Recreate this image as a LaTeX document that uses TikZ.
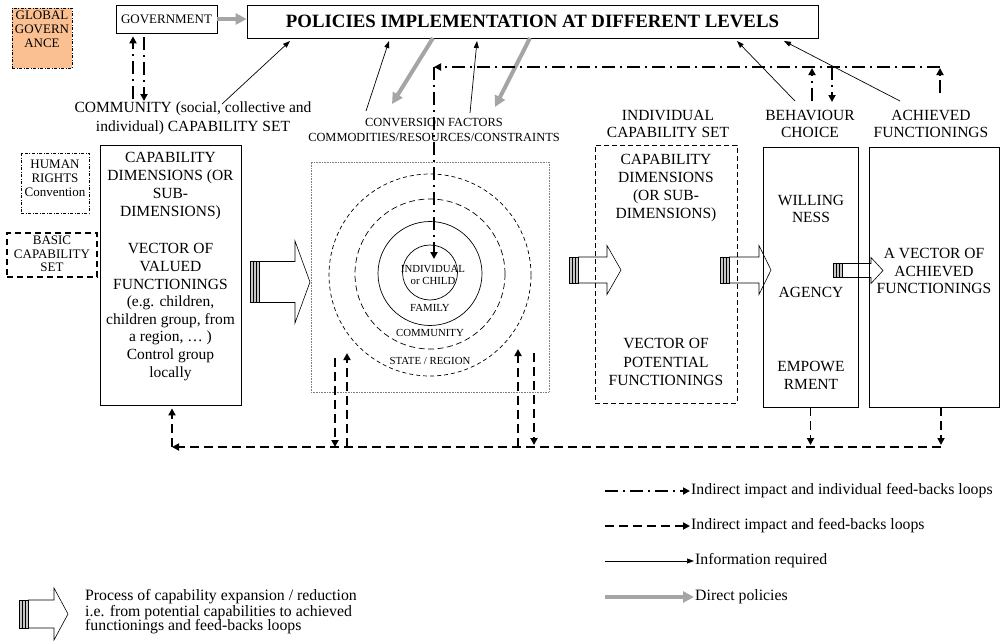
\documentclass[tikz,border=0pt]{standalone}
\usepackage{fontspec}
\setmainfont{Liberation Serif}
\usetikzlibrary{arrows.meta,calc}
\definecolor{govpeach}{RGB}{250,192,146}
\definecolor{policygray}{RGB}{165,165,165}

% striped process arrow: tail x, tip x, mid y, body half, head half, head length
\newcommand{\procarrow}[6]{%
  \filldraw[fill=gray!45, line width=0.5pt] (#1,#3-#4) rectangle (#1+9,#3+#4);
  \draw[line width=0.5pt] (#1+3,#3-#4) -- (#1+3,#3+#4) (#1+6,#3-#4) -- (#1+6,#3+#4);
  \draw[line width=0.6pt] (#1+9,#3-#4) -- (#2-#6,#3-#4) -- (#2-#6,#3-#5)
    -- (#2,#3) -- (#2-#6,#3+#5) -- (#2-#6,#3+#4) -- (#1+9,#3+#4);
}

\begin{document}
\begin{tikzpicture}[
  x=1pt, y=-1pt,
  % Global node styling
  every node/.style={inner sep=1pt, align=center},
  % Text sizes
  bigtext/.style={font=\fontsize{15.5}{17.8}\selectfont},
  smalltext/.style={font=\fontsize{13}{14}\selectfont},
  ringtext/.style={font=\fontsize{10.8}{12}\selectfont},
  convtext/.style={font=\fontsize{12.4}{15}\selectfont},
  legendtext/.style={font=\fontsize{15.8}{14.5}\selectfont, align=left},
  % Boxes
  plainbox/.style={draw, line width=0.7pt},
  dashbox/.style={draw, line width=0.7pt, dash pattern=on 5pt off 3pt},
  ring/.style={circle, draw, line width=0.7pt, inner sep=0pt},
  % Connectors
  info/.style={-{Triangle[length=7pt, width=5pt]}, line width=0.7pt},
  policy/.style={-{Triangle[length=11pt, width=11pt]}, policygray, line width=4pt},
  indloop/.style={-{Triangle[length=7pt, width=7pt]}, line width=1.8pt,
    dash pattern=on 13pt off 5pt on 2pt off 5pt},
  fbloop/.style={-{Triangle[length=7pt, width=7pt]}, line width=1.8pt,
    dash pattern=on 9pt off 5pt}
]
\useasboundingbox (0,0) rectangle (1002,641);

% top row
\node[draw, line width=0.7pt, dash pattern=on 3pt off 1.5pt on 1pt off 1.5pt, fill=govpeach,
  minimum width=60pt, minimum height=60pt] (global) at (42,38) {};
\node[smalltext, anchor=north] (globaltext) at ([yshift=-2pt]global.north) {GLOBAL\\GOVERN\\ANCE};
\node[plainbox, smalltext, minimum width=101pt, minimum height=28pt] (gov) at (166.5,19) {GOVERNMENT};
\node[plainbox, minimum width=571pt, minimum height=33pt, font=\fontsize{18.8}{22}\selectfont\bfseries]
  (policies) at (532.5,21.5) {POLICIES IMPLEMENTATION AT DIFFERENT LEVELS};

% labels over the columns
\node[bigtext, font=\fontsize{15.5}{19}\selectfont] (commset) at (193,118.5)
  {COMMUNITY (social, collective and\\individual) CAPABILITY SET};
\node[convtext] (conv) at (434,129.5) {CONVERSION FACTORS\\COMMODITIES/RESOURCES/CONSTRAINTS};
\node[bigtext, font=\fontsize{15.5}{17}\selectfont] (indlabel) at (668,123.5) {INDIVIDUAL\\CAPABILITY SET};
\node[bigtext, font=\fontsize{15.5}{17}\selectfont] (behavlabel) at (810,123.5) {BEHAVIOUR\\CHOICE};
\node[bigtext, font=\fontsize{15.5}{17}\selectfont] (achlabel) at (931,123.5) {ACHIEVED\\FUNCTIONINGS};

% left column
\node[draw, line width=0.6pt, dash pattern=on 3pt off 1.5pt on 1pt off 1.5pt,
  minimum width=68pt, minimum height=60pt] (rights) at (55,183) {};
\node[smalltext] (rightstext) at (55,178) {HUMAN\\RIGHTS\\Convention};
\node[draw, line width=1.5pt, dash pattern=on 6pt off 4pt,
  minimum width=90pt, minimum height=44pt] (basic) at (52,255) {};
\node[smalltext, font=\fontsize{13}{13.5}\selectfont] (basictext) at (52,254) {BASIC\\CAPABILITY\\SET};
\node[plainbox, minimum width=141pt, minimum height=260pt] (capbox) at (170.5,275) {};
\node[bigtext, font=\fontsize{15.5}{18.3}\selectfont] (captop) at (170.5,186) {CAPABILITY\\DIMENSIONS (OR\\SUB-\\DIMENSIONS)};
\node[bigtext, font=\fontsize{15.5}{17.6}\selectfont] (capvec) at (170.5,312)
  {VECTOR OF\\VALUED\\FUNCTIONINGS\\(e.g. children,\\children group, from\\a region, … )\\Control group\\locally};

% conversion rings
\node[draw, gray, densely dotted, line width=0.6pt, minimum width=238pt, minimum height=230pt] (context) at (430,277) {};
\node[ring, dash pattern=on 4pt off 3pt, minimum size=202pt] (state) at (430,275) {};
\node[ring, dash pattern=on 6pt off 3.5pt, minimum size=150pt] (community) at (430,274) {};
\node[ring, minimum size=104pt] (family) at (430,273.5) {};
\node[ring, ringtext, minimum size=55pt] (child) at (430,272.5) {};
\node[ringtext] (childtext) at (433,275) {INDIVIDUAL\\or CHILD};
\node[ringtext] (familytext) at (430,308) {FAMILY};
\node[ringtext] (communitytext) at (430,333) {COMMUNITY};
\node[ringtext] (statetext) at (430,361) {STATE / REGION};

% right columns
\node[dashbox, minimum width=142pt, minimum height=258pt] (indbox) at (666,274) {};
\node[bigtext, font=\fontsize{15.5}{18.3}\selectfont] (indtop) at (666,188) {CAPABILITY\\DIMENSIONS\\(OR SUB-\\DIMENSIONS)};
\node[bigtext, font=\fontsize{15.5}{18.5}\selectfont] (indvec) at (666,362) {VECTOR OF\\POTENTIAL\\FUNCTIONINGS};
\node[plainbox, minimum width=95pt, minimum height=260pt] (behavbox) at (810.5,277) {};
\node[bigtext] (willing) at (811,209) {WILLING\\NESS};
\node[bigtext] (agency) at (811,292) {AGENCY};
\node[bigtext] (empower) at (811,375) {EMPOWE\\RMENT};
\node[plainbox, minimum width=130pt, minimum height=260pt] (achbox) at (934,277) {};
\node[bigtext] (achvec) at (934,271) {A VECTOR OF\\ACHIEVED\\FUNCTIONINGS};

% process arrows
\procarrow{250}{310}{282}{20.5}{41}{15}
\procarrow{569}{621}{270}{13}{24.5}{14}
\procarrow{720}{771}{270}{13}{24.5}{12}
\procarrow{833}{883}{270.5}{7}{13}{12}

% loose connector ends
\coordinate (govup) at (133,99);
\coordinate (govdown) at (144,101);
\coordinate (cominfo) at (222,104);  \coordinate (polA) at (290,41);
\coordinate (convinfoA) at (366,111); \coordinate (polB) at (389,41);
\coordinate (convinfoB) at (470,113); \coordinate (polC) at (477,41);
\coordinate (behavinfo) at (795,101); \coordinate (polD) at (737,41);
\coordinate (achinfo) at (900,101);  \coordinate (polE) at (784,41);
\coordinate (polF) at (433,38);  \coordinate (convA) at (392,104);
\coordinate (polG) at (530,38);  \coordinate (convB) at (495,107);
\coordinate (loopR) at (940,67);
\coordinate (loopL) at (434,67);
\coordinate (achup) at (940,93);
\coordinate (behavup) at (812,101);
\coordinate (behavdown) at (832,102);
\coordinate (childtop) at (434,259);
\coordinate (fbR) at (941,447);
\coordinate (fbL) at (172,447);
\coordinate (ctxA) at (335,358);
\coordinate (ctxB) at (347,353);
\coordinate (ctxC) at (518,349);
\coordinate (ctxD) at (534,353);

% direct policies
\draw[policy] (gov.east) -- (gov.east -| policies.west);
\draw[policy] (polF) -- (convA);
\draw[policy] (polG) -- (convB);

% information required
\draw[info] (cominfo) -- (polA);
\draw[info] (convinfoA) -- (polB);
\draw[info] (convinfoB) -- (polC);
\draw[info] (behavinfo) -- (polD);
\draw[info] (achinfo) -- (polE);

% individual feed-back loops
\draw[indloop, shorten >=3pt] (govup) -- (govup |- gov.south);
\draw[indloop, shorten <=4pt] (govdown |- gov.south) -- (govdown);
\draw[indloop, shorten >=1pt] (achup) -- (loopR);
\draw[indloop, shorten >=1pt] (behavup) -- (behavup |- loopR);
\draw[indloop] (behavdown |- loopR) -- (behavdown);
\draw[indloop] (loopR) -- (loopL);
\draw[indloop] (loopL) -- (childtop);

% feed-back loops
\draw[fbloop] (fbR) -- (fbL);
\draw[fbloop, shorten >=3pt] (fbL) -- (fbL |- capbox.south);
\draw[fbloop, shorten >=2pt] (behavbox.south) -- (behavbox.south |- fbR);
\draw[fbloop, shorten >=2pt] (fbR |- achbox.south) -- (fbR);
\draw[fbloop] (ctxA) -- (ctxA |- fbR);
\draw[fbloop] (ctxB |- fbR) -- (ctxB);
\draw[fbloop] (ctxC |- fbR) -- (ctxC);
\draw[fbloop, shorten >=2pt] (ctxD) -- (ctxD |- fbR);

% legend
\procarrow{19}{68}{614}{14}{26}{14}
\node[legendtext, anchor=west] (proctext) at (84,612)
  {Process of capability expansion / reduction\\i.e. from potential capabilities to achieved\\functionings and feed-backs loops};
\node[legendtext, anchor=west] (legA) at (690,491) {Indirect impact and individual feed-backs loops};
\node[legendtext, anchor=west] (legB) at (690,526) {Indirect impact and feed-backs loops};
\node[legendtext, anchor=west] (legC) at (694,561) {Information required};
\node[legendtext, anchor=west] (legD) at (694,597) {Direct policies};
\coordinate (legstart) at (605,0);
\draw[indloop] (legA.west -| legstart) -- (legA.west);
\draw[fbloop] (legB.west -| legstart) -- (legB.west);
\draw[info] (legC.west -| legstart) -- (legC.west);
\draw[policy] (legD.west -| legstart) -- (legD.west);

\end{tikzpicture}
\end{document}
